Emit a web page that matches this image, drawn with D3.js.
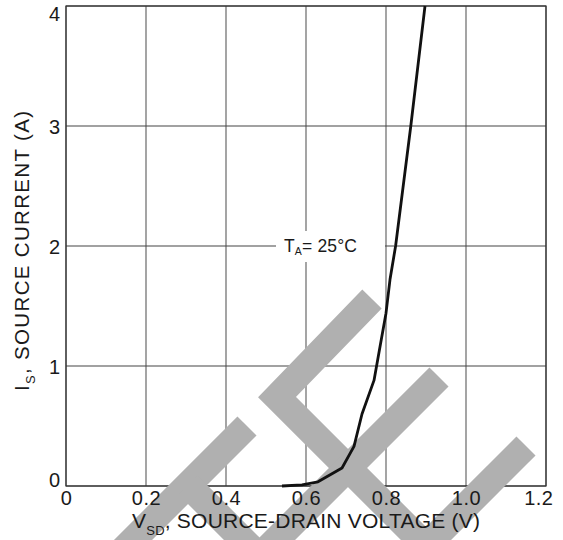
<!DOCTYPE html>
<html>
<head>
<meta charset="utf-8">
<script src="https://cdn.jsdelivr.net/npm/d3@7"></script>
<style>
  body { margin: 0; background: #fff; }
  svg { display: block; font-family: "Liberation Sans", Arial, sans-serif; }
</style>
</head>
<body>
<div id="chart"></div>
<script>
// source-drain diode forward characteristic, TA = 25 C
const vsdValues = [0.54, 0.59, 0.63, 0.69, 0.72, 0.74, 0.77, 0.785, 0.80, 0.81, 0.824, 0.862, 0.8975];
const isValues = [0.0, 0.01, 0.035, 0.15, 0.33, 0.6, 0.88, 1.16, 1.44, 1.72, 2.0, 3.0, 4.0];

const xTicks = [0, 0.2, 0.4, 0.6, 0.8, 1.0, 1.2];
const xTickLabels = ["0", "0.2", "0.4", "0.6", "0.8", "1.0", "1.2"];
const yTicks = [0, 1, 2, 3, 4];
const yTickLabels = ["0", "1", "2", "3", "4"];

const width = 563;
const height = 540;
const margin = { top: 6, right: 17, bottom: 54, left: 66 };
const plotWidth = width - margin.left - margin.right;
const plotHeight = height - margin.top - margin.bottom;

const svg = d3
  .select("#chart")
  .append("svg")
  .attr("width", width)
  .attr("height", height);

const x = d3.scaleLinear().domain([0, 1.2]).range([margin.left, margin.left + plotWidth]);
const y = d3.scaleLinear().domain([0, 4]).range([margin.top + plotHeight, margin.top]);

// grid lines
const grid = svg.append("g");
grid
  .selectAll("line.v")
  .data(xTicks)
  .enter()
  .append("line")
  .attr("x1", (d) => x(d))
  .attr("x2", (d) => x(d))
  .attr("y1", margin.top)
  .attr("y2", margin.top + plotHeight)
  .attr("stroke", "#5a5a5a")
  .attr("stroke-width", 1.1);
grid
  .selectAll("line.h")
  .data(yTicks)
  .enter()
  .append("line")
  .attr("x1", margin.left)
  .attr("x2", margin.left + plotWidth)
  .attr("y1", (d) => y(d))
  .attr("y2", (d) => y(d))
  .attr("stroke", "#444")
  .attr("stroke-width", 1.1);

// frame
svg
  .append("rect")
  .attr("x", margin.left)
  .attr("y", margin.top)
  .attr("width", plotWidth)
  .attr("height", plotHeight)
  .attr("fill", "none")
  .attr("stroke", "#333")
  .attr("stroke-width", 1.2);

// annotation box
svg
  .append("rect")
  .attr("x", x(0.6) - 30)
  .attr("y", y(2) - 15)
  .attr("width", 109)
  .attr("height", 31)
  .attr("fill", "#fff");

// watermark stripes
const watermark = svg
  .append("g")
  .attr("fill", "none")
  .attr("stroke", "#b0b0b0")
  .attr("stroke-width", 27)
  .attr("stroke-linejoin", "miter")
  .attr("stroke-linecap", "butt");
[
  "M247,426 L80,593",
  "M188,485 L262,559",
  "M372,299 L277,397 L440,560",
  "M439,377 L250,566",
  "M526,446 L420,552",
].forEach((d) => watermark.append("path").attr("d", d));

// tick labels
const xAxis = svg
  .append("g")
  .attr("transform", `translate(0, ${margin.top + plotHeight})`)
  .call(
    d3
      .axisBottom(x)
      .tickValues(xTicks)
      .tickFormat((d, i) => xTickLabels[i])
      .tickSize(0)
      .tickPadding(5)
  );
xAxis.select(".domain").remove();
xAxis.attr("font-family", null).attr("font-size", null);
xAxis
  .selectAll("text")
  .attr("font-size", 20)
  .attr("letter-spacing", 0.5)
  .attr("fill", "#1a1a1a")
  .attr("dy", "0.72em")
  .filter((d) => d === 1.2)
  .attr("text-anchor", "end")
  .attr("dx", 7);

const yAxis = svg
  .append("g")
  .attr("transform", `translate(${margin.left}, 0)`)
  .call(
    d3
      .axisLeft(y)
      .tickValues(yTicks)
      .tickFormat((d, i) => yTickLabels[i])
      .tickSize(0)
      .tickPadding(6)
  );
yAxis.select(".domain").remove();
yAxis.attr("font-family", null).attr("font-size", null);
yAxis
  .selectAll("text")
  .attr("font-size", 20)
  .attr("fill", "#1a1a1a")
  .attr("dy", (d) => (d === 0 ? "0em" : d === 4 ? "0.72em" : "0.36em"));

// curve
const line = d3
  .line()
  .x((d, i) => x(vsdValues[i]))
  .y((d) => y(d));
svg
  .append("path")
  .datum(isValues)
  .attr("d", line)
  .attr("fill", "none")
  .attr("stroke", "#111")
  .attr("stroke-width", 2.8)
  .attr("stroke-linejoin", "round");

// annotation text
const ta = svg
  .append("text")
  .attr("x", x(0.6) - 22)
  .attr("y", y(2) + 6)
  .attr("font-size", 17.5)
  .attr("textLength", 73)
  .attr("fill", "#1a1a1a");
ta.append("tspan").text("T");
ta.append("tspan").attr("font-size", 10.5).attr("dy", 3).text("A");
ta.append("tspan").attr("dy", -3).text("= 25°C");

// axis titles
const xTitle = svg
  .append("text")
  .attr("x", margin.left + plotWidth / 2)
  .attr("y", 528)
  .attr("text-anchor", "middle")
  .attr("font-size", 21)
  .attr("textLength", 348)
  .attr("fill", "#1a1a1a");
xTitle.append("tspan").text("V");
xTitle.append("tspan").attr("font-size", 13).attr("dy", 7).text("SD");
xTitle.append("tspan").attr("dy", -7).text(", SOURCE-DRAIN VOLTAGE (V)");

const yTitle = svg
  .append("text")
  .attr("transform", `translate(29, 251) rotate(-90)`)
  .attr("text-anchor", "middle")
  .attr("font-size", 20.5)
  .attr("textLength", 280)
  .attr("fill", "#1a1a1a");
yTitle.append("tspan").text("I");
yTitle.append("tspan").attr("font-size", 13).attr("dy", 6).text("S");
yTitle.append("tspan").attr("dy", -6).text(", SOURCE CURRENT (A)");
</script>
</body>
</html>
